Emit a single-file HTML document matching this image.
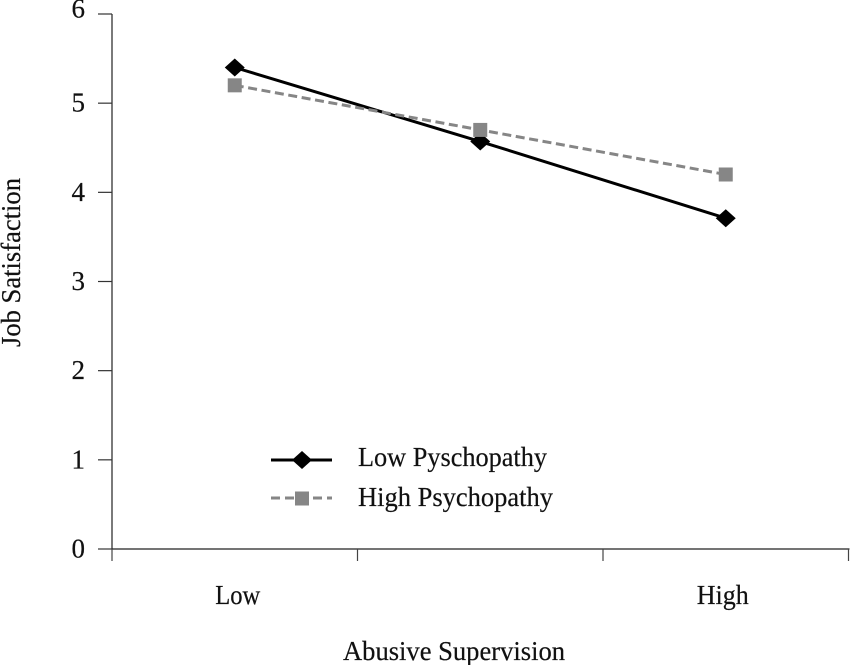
<!DOCTYPE html>
<html><head><meta charset="utf-8"><title>Job Satisfaction Chart</title>
<style>html,body{margin:0;padding:0;background:#fff}svg{display:block}text{font-family:"Liberation Serif",serif;fill:#111;stroke:#111;stroke-width:.2px;font-size:27px}</style>
</head><body>
<svg id="chart" width="850" height="665" viewBox="0 0 850 665" xmlns="http://www.w3.org/2000/svg">
<text transform="translate(20,347) rotate(-90)" textLength="169" lengthAdjust="spacingAndGlyphs">Job Satisfaction</text>
<text x="343" y="660" textLength="222" lengthAdjust="spacingAndGlyphs">Abusive Supervision</text>
<g>
<line x1="271" x2="332" y1="460" y2="460" stroke="#000" stroke-width="3"/>
<polygon points="292,460 302,451 312,460 302,469" fill="#000"/>
<text x="358" y="466" textLength="189" lengthAdjust="spacingAndGlyphs">Low Pyschopathy</text>
<line x1="271" x2="332" y1="498" y2="498" stroke="#868686" stroke-width="3" stroke-dasharray="9 5"/>
<rect x="295" y="491.5" width="14" height="14" fill="#868686"/>
<text x="358" y="506" textLength="195" lengthAdjust="spacingAndGlyphs">High Psychopathy</text>
</g>
<g id="axes"></g><g id="marks"></g>
</svg>
<script>
var categories = ['Low', 'Medium', 'High'];
var categoryLabels = ['Low', '', 'High'];
var lowPsychopathy = [5.4, 4.57, 3.71];
var highPsychopathy = [5.2, 4.7, 4.2];
var yTicks = [0, 1, 2, 3, 4, 5, 6];

var NS = 'http://www.w3.org/2000/svg';
var L = 112, R = 848.5, T = 14, B = 549;
function yScale(v) { return B - (B - T) * v / 6; }
function xBand(i) { return L + (R - L) * i / categories.length; }
function xScale(i) { return xBand(i + 0.5); }
function make(parent, tag, attrs, text) {
  var el = document.createElementNS(NS, tag);
  for (var k in attrs) el.setAttribute(k, attrs[k]);
  if (text !== undefined) el.textContent = text;
  parent.appendChild(el);
  return el;
}
var axes = document.getElementById('axes');
var marks = document.getElementById('marks');
var el;
el = make(axes, 'line', {x1: L, x2: L, y1: T, y2: B, stroke: '#333', 'stroke-width': 1.3});


el = make(axes, 'line', {x1: L, x2: R + 1, y1: B, y2: B, stroke: '#222', 'stroke-width': 1.3});


yTicks.forEach(function (t) {
  var y = yScale(t);
  var tick = make(axes, 'line', {x1: 98, x2: L, y1: y, y2: y, stroke: '#333', 'stroke-width': 1.2});
  
  
  var label = make(axes, 'text', {x: 85, y: y + 8.5 - (t === 6 ? 5 : 0), 'text-anchor': 'end', style: 'font-size:27px'}, String(t));
  
  
});
for (var i = 0; i <= categories.length; i++) {
  var tx = xBand(i);
  var xt = make(axes, 'line', {x1: tx, x2: tx, y1: B, y2: B + 12, stroke: '#444', 'stroke-width': 1.2});
  
  
}
categoryLabels.forEach(function (c, i) {
  if (!c) return;
  var lb = make(axes, 'text', {x: xScale(i) + (i === 0 ? 3 : -3), y: 604, 'text-anchor': 'middle', textLength: i === 0 ? 45 : 52, lengthAdjust: 'spacingAndGlyphs'}, c);
  
  
});
function pts(vals) {
  return vals.map(function (v, i) { return xScale(i) + ',' + yScale(v); }).join(' ');
}
el = make(marks, 'polyline', {points: pts(lowPsychopathy), fill: 'none', stroke: '#000', 'stroke-width': 3});


el = make(marks, 'polyline', {points: pts(highPsychopathy), fill: 'none', stroke: '#868686', 'stroke-width': 3, 'stroke-dasharray': '9 4.6'});


lowPsychopathy.forEach(function (v, i) {
  var x = xScale(i), y = yScale(v);
  var d = make(marks, 'polygon', {points: (x - 10) + ',' + y + ' ' + x + ',' + (y - 9) + ' ' + (x + 10) + ',' + y + ' ' + x + ',' + (y + 9), fill: '#000'});
  
  
});
highPsychopathy.forEach(function (v, i) {
  var x = xScale(i), y = yScale(v);
  var s = make(marks, 'rect', {x: x - 7, y: y - 7, width: 14, height: 14, fill: '#868686'});
  
  
});
</script>
</body></html>
